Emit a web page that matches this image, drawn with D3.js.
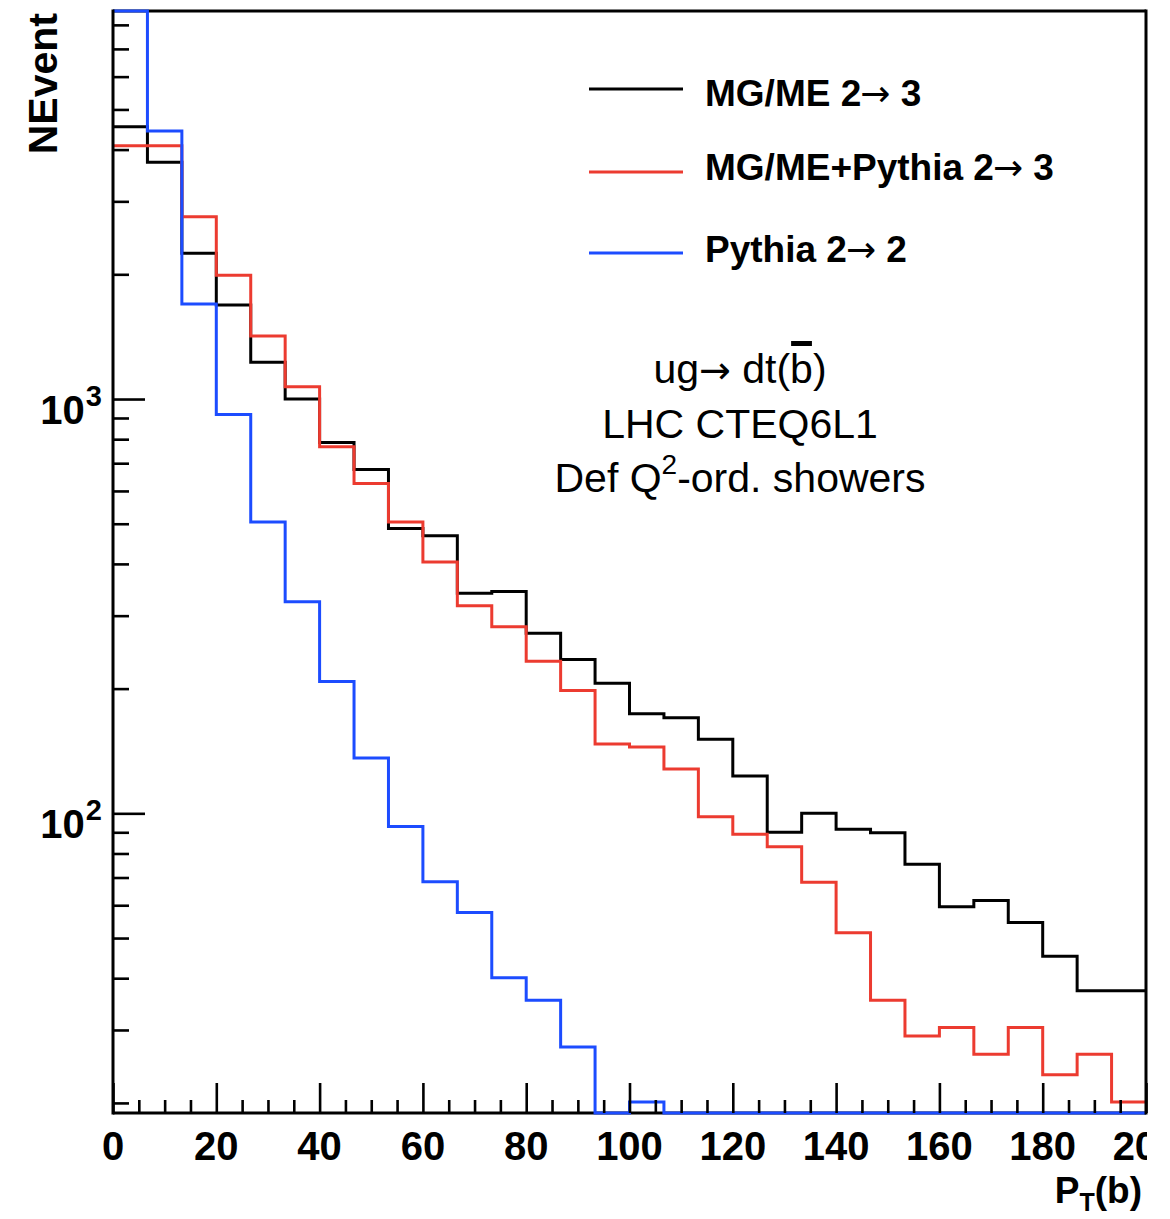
<!DOCTYPE html>
<html>
<head>
<meta charset="utf-8">
<script src="https://cdn.jsdelivr.net/npm/d3@7"></script>
<style>
  html, body { margin: 0; padding: 0; background: #fff; }
  svg { display: block; }
  text { font-family: "Liberation Sans", Arial, Helvetica, sans-serif; }
  .arrow { font-family: "DejaVu Sans", sans-serif; font-weight: normal; }
</style>
</head>
<body>
<div id="chart"></div>
<script>
// binning of the P_T(b) histogram
const xMin = 0;
const xMax = 200;
const nBins = 30;

// bin contents (0 = empty bin)
const mgme = [4540, 3727, 2248, 1686, 1226, 1000, 785, 676, 487, 468, 340, 343, 272, 235, 206,
  174, 170, 151, 123, 90, 100, 91.5, 89.8, 75.4, 59.5, 61.6, 54.5, 45.2, 37.3, 37.3];
const mgmePythia = [4087, 4087, 2754, 1990, 1419, 1071, 767, 625, 505, 404, 317, 282, 233, 198, 147,
  144.5, 128, 98.1, 89, 83.1, 68.2, 51.5, 35.4, 29.0, 30.4, 26.2, 30.4, 23.4, 26.2, 20.1];
const pythia = [9800, 4434, 1696, 918, 505, 324, 208, 136, 93, 68.4, 57.6, 40.1, 35.4, 27.3, 0,
  20.1, 0, 0, 0, 0, 0, 0, 0, 0, 0, 0, 0, 0, 0, 0];

const series = [
  { name: ["MG/ME 2", " 3"], values: mgme, color: "#000000" },
  { name: ["MG/ME+Pythia 2", " 3"], values: mgmePythia, color: "#ec3b30" },
  { name: ["Pythia 2", " 2"], values: pythia, color: "#1c4cff" }
];

const xMajor = d3.range(0, 201, 20);
const xMinor = d3.range(0, 201, 5).filter(d => d % 20 !== 0);
const yMajor = [100, 1000];
const yMinor = [20, 30, 40, 50, 60, 70, 80, 90, 200, 300, 400, 500, 600, 700, 800, 900,
  2000, 3000, 4000, 5000, 6000, 7000, 8000];
const yMin = 18.91;
const yMax = 8641;

const width = 1170;
const height = 1219;
const plotL = 113, plotR = 1146, plotT = 11, plotB = 1113;

const svg = d3.select("#chart").append("svg")
  .attr("width", width)
  .attr("height", height);

const x = d3.scaleLinear().domain([xMin, xMax]).range([plotL, plotR]);
const y = d3.scaleLog().domain([yMin, yMax]).range([plotB, plotT]).clamp(true);

const edges = d3.range(nBins + 1).map(i => xMin + i * (xMax - xMin) / nBins);

// bottom and top frame lines first, histograms paint over them
svg.append("path")
  .attr("d", `M${plotL},${plotB}H${plotR}M${plotL},${plotT}H${plotR}`)
  .attr("stroke", "#000").attr("stroke-width", 3);

const line = d3.line()
  .x(d => x(d[0]))
  .y(d => y(Math.max(d[1], yMin)))
  .curve(d3.curveStepAfter);

series.forEach(s => {
  const pts = s.values.map((v, i) => [edges[i], v]);
  pts.push([edges[nBins], s.values[nBins - 1]]);
  svg.append("path")
    .attr("d", line(pts))
    .attr("fill", "none")
    .attr("stroke", s.color)
    .attr("stroke-width", 3);
});

// left axis and right frame
svg.append("path")
  .attr("d", `M${plotL},${plotB + 1.5}V${plotT - 1.5}M${plotR},${plotT - 1.5}V${plotB + 1.5}`)
  .attr("stroke", "#000")
  .attr("stroke-width", 3);

// ticks (inward)
function ticks(axis, vals, size, tr) {
  const g = svg.append("g")
    .attr("transform", tr)
    .call(axis.tickValues(vals).tickSize(-size).tickFormat(""));
  g.select(".domain").remove();
  g.selectAll(".tick line").attr("stroke", "#000").attr("stroke-width", 2.6);
}
ticks(d3.axisBottom(x), xMajor, 30, `translate(0,${plotB})`);
ticks(d3.axisBottom(x), xMinor, 13, `translate(0,${plotB})`);
ticks(d3.axisLeft(y), yMajor, 32, `translate(${plotL},0)`);
ticks(d3.axisLeft(y), yMinor, 16, `translate(${plotL},0)`);

// x tick labels, cut at the right edge like the original
svg.append("clipPath").attr("id", "xclip")
  .append("rect").attr("x", 0).attr("y", 0).attr("width", 1147).attr("height", height);

svg.append("g").attr("clip-path", "url(#xclip)")
  .selectAll("text")
  .data(xMajor)
  .join("text")
  .attr("x", d => x(d))
  .attr("y", 1160)
  .attr("text-anchor", "middle")
  .attr("font-size", 40)
  .attr("font-weight", "bold")
  .text(d => d);

// y tick labels 10^n
yMajor.forEach(v => {
  const t = svg.append("text")
    .attr("x", 102)
    .attr("y", y(v) + 25)
    .attr("text-anchor", "end")
    .attr("font-size", 40)
    .attr("font-weight", "bold");
  t.append("tspan").text("10");
  t.append("tspan").attr("font-size", 29).attr("dx", 1).attr("dy", -18).text(Math.round(Math.log10(v)));
});

// axis titles
svg.append("text")
  .attr("transform", "translate(57,13) rotate(-90)")
  .attr("text-anchor", "end")
  .attr("font-size", 41)
  .attr("font-weight", "bold")
  .text("NEvent");

const xt = svg.append("text")
  .attr("x", 1142)
  .attr("y", 1203)
  .attr("text-anchor", "end")
  .attr("font-size", 37)
  .attr("font-weight", "bold");
xt.append("tspan").text("P");
xt.append("tspan").attr("font-size", 25).attr("dy", 8).text("T");
xt.append("tspan").attr("dy", -8).text("(b)");

// legend
const legendY = [89, 172, 253];
const legendTextY = [106, 180, 262];
series.forEach((s, i) => {
  svg.append("line")
    .attr("x1", 589).attr("x2", 683)
    .attr("y1", legendY[i]).attr("y2", legendY[i])
    .attr("stroke", s.color).attr("stroke-width", 3);
  const t = svg.append("text")
    .attr("x", 705)
    .attr("y", legendTextY[i])
    .attr("font-size", 37)
    .attr("font-weight", "bold");
  t.append("tspan").text(s.name[0]);
  t.append("tspan").attr("class", "arrow").attr("font-size", 36).attr("dx", -1).text("\u2192");
  t.append("tspan").text(s.name[1]);
});

// process label
const proc = svg.append("text")
  .attr("x", 740).attr("y", 383)
  .attr("text-anchor", "middle")
  .attr("font-size", 41);
proc.append("tspan").text("ug");
proc.append("tspan").attr("class", "arrow").attr("font-size", 38).text("\u2192");
proc.append("tspan").text(" dt(b)");
const bExt = proc.node().getExtentOfChar(7);
svg.append("rect")
  .attr("x", bExt.x + 1)
  .attr("y", 341)
  .attr("width", bExt.width - 2)
  .attr("height", 5)
  .attr("fill", "#000");

svg.append("text")
  .attr("x", 740).attr("y", 438)
  .attr("text-anchor", "middle")
  .attr("font-size", 41)
  .text("LHC CTEQ6L1");

const q = svg.append("text")
  .attr("x", 740).attr("y", 492)
  .attr("text-anchor", "middle")
  .attr("font-size", 41);
q.append("tspan").text("Def Q");
q.append("tspan").attr("font-size", 28).attr("dy", -18).text("2");
q.append("tspan").attr("dy", 18).text("-ord. showers");
</script>
</body>
</html>
